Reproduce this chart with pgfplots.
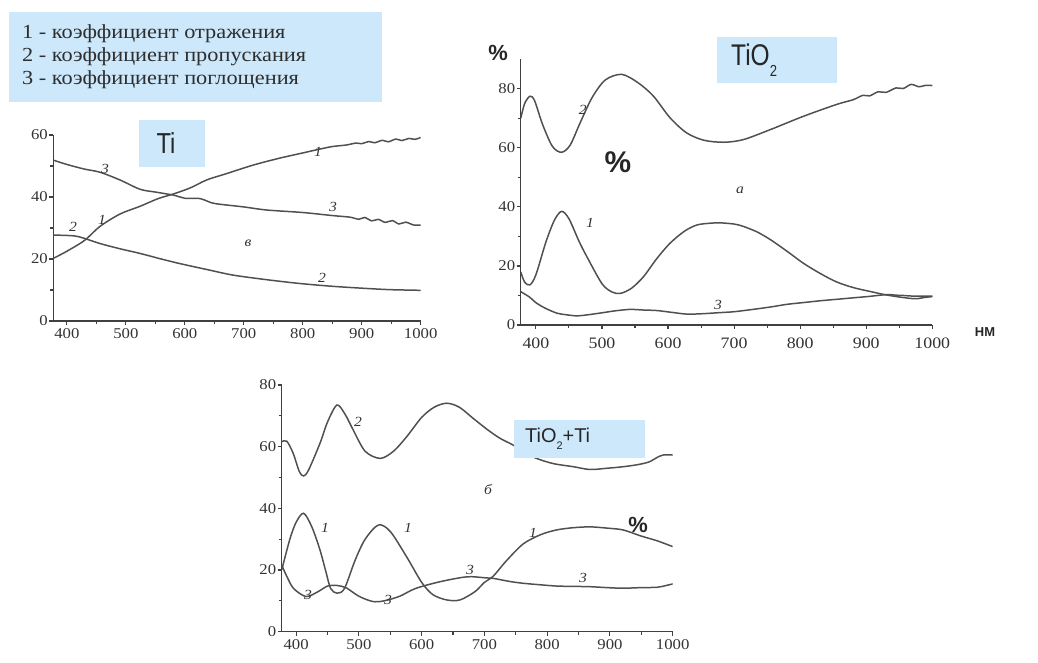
\documentclass[border=0pt]{standalone}
\usepackage{fontspec}
\setmainfont{Liberation Serif}[FakeStretch=1.12]
\newfontfamily\sansf{Liberation Sans}
\newfontfamily\sansn{Liberation Sans}[FakeStretch=0.82]
\usepackage{pgfplots}
\pgfplotsset{compat=1.18}
\definecolor{boxblue}{RGB}{204,232,250}
\definecolor{curvec}{RGB}{80,80,80}
\pgfplotsset{cv/.style={curvec, line width=1.5pt, smooth, mark=none},
  myax/.style={scale only axis, axis lines=left,
  axis line style={-, draw=black!75, line width=1.5pt},
  xmin=377, xmax=1000, ymin=0,
  xtick={400,500,...,1000}, minor xtick={450,550,...,950},
  tick align=outside, major tick length=4bp, minor tick length=3bp,
  every tick/.style={black!75, line width=1.1pt},
  tick label style={font=\fontsize{15}{15}\selectfont, text=black!80},
  yticklabel style={xshift=2bp},
  /pgf/number format/assume math mode=true,
  /pgf/number format/set thousands separator={}}}
\newcommand{\cl}[3]{\node[font=\fontsize{14}{14}\selectfont\itshape, text=black!80] at (#1bp,-#2bp) {#3};}
\begin{document}
\begin{tikzpicture}
\path[use as bounding box] (0,0) rectangle (1038bp,-663bp);
% ---------------- Ti ----------------
\begin{axis}[myax, at={(53.3bp,-321bp)}, anchor=south west, width=367.4bp, height=186bp,
  ymax=60, ytick={0,20,40,60}, minor ytick={10,30,50}]
\addplot[cv] coordinates {(377,20.2) (400,22.5) (430,26) (456,30.5) (490,34.5) (524,37) (555,39.5) (581,41) (610,43) (637,45.5) (670,47.5) (716,50.3) (760,52.5) (795,54) (830,55.5) (851,56.3) (875,56.8) (890,57.4) (900,57.2) (912,57.9) (922,57.5) (935,58.3) (945,57.8) (958,58.7) (968,58.2) (980,58.9) (990,58.6) (1000,59.2)};
\addplot[cv] coordinates {(377,51.9) (400,50.5) (430,49) (456,48) (490,45.5) (524,42.5) (550,41.6) (581,40.6) (600,39.6) (626,39.5) (640,38.5) (654,37.8) (700,36.8) (739,35.8) (800,35) (851,34) (880,33.5) (895,32.8) (905,33.4) (917,32.3) (928,32.8) (940,31.8) (952,32.4) (963,31.3) (975,31.9) (987,31) (1000,30.9)};
\addplot[cv] coordinates {(377,27.7) (400,27.6) (420,27.2) (456,25) (490,23.3) (524,21.8) (560,20) (592,18.5) (640,16.5) (682,14.8) (740,13.3) (795,12.1) (850,11.2) (908,10.5) (950,10.1) (1000,9.9)};
\end{axis}
% ---------------- TiO2 ----------------
\begin{axis}[myax, at={(520.7bp,-325bp)}, anchor=south west, width=411.6bp, height=265.7bp,
  ymax=90, ytick={0,20,40,60,80}, minor ytick={10,30,50,70},
  xticklabel style={yshift=-5bp, font=\fontsize{16}{16}\selectfont}]
\addplot[cv] coordinates {(377,70) (383,75) (391,77.5) (398,76) (410,68) (425,60.5) (439,58.5) (452,61) (467,68.5) (485,77) (505,83) (530,84.9) (555,82) (578,77.5) (603,70.2) (628,65.1) (654,62.6) (684,61.9) (714,62.8) (755,66.2) (805,70.7) (855,74.7) (880,76.3) (895,77.8) (905,77.6) (918,79) (930,78.8) (945,80.3) (956,80.1) (968,81.5) (980,80.7) (990,81.2) (1000,81.1)};
\addplot[cv] coordinates {(377,18) (383,14.5) (391,13.6) (400,17) (415,28) (428,35.5) (439,38.5) (450,36) (465,28.5) (477,23.2) (500,14) (515,11.2) (528,10.7) (545,12.5) (563,16.4) (583,22.5) (603,27.7) (625,31.8) (644,33.9) (665,34.5) (679,34.6) (700,34.2) (714,33.4) (735,31.5) (755,28.9) (780,25) (805,20.9) (830,17.5) (855,14.6) (880,12.7) (905,11.4) (930,10.2) (956,9.3) (975,8.9) (990,9.4) (1000,9.6)};
\addplot[cv] coordinates {(377,11.3) (390,9.5) (401,7.4) (415,5.6) (432,4) (445,3.5) (462,3.1) (480,3.5) (502,4.2) (520,4.8) (543,5.3) (560,5.1) (583,4.9) (605,4.3) (628,3.7) (650,3.8) (679,4.2) (700,4.5) (729,5.3) (755,6.1) (780,7) (805,7.6) (830,8.2) (855,8.7) (880,9.2) (905,9.7) (931,10.3) (945,10.1) (956,10) (970,9.8) (985,9.8) (1000,9.8)};
\end{axis}
% ---------------- TiO2+Ti ----------------
\begin{axis}[myax, at={(281.7bp,-631.7bp)}, anchor=south west, width=391bp, height=246.7bp,
  ymax=80, ytick={0,20,40,60,80}, minor ytick={10,30,50,70}]
\addplot[cv] coordinates {(377,61.6) (385,61.8) (395,58) (405,52) (412,50.5) (420,52.5) (438,61.1) (450,68) (465,73.5) (478,70.5) (491,65.4) (510,58.5) (534,56.2) (555,58.5) (576,63.2) (600,69.5) (620,72.8) (640,74.1) (660,72.8) (682,69.2) (705,65.5) (725,62.7) (746,60.5) (765,58) (783,56.2) (810,54.5) (842,53.5) (868,52.6) (895,53) (921,53.5) (945,54.2) (963,55.1) (975,56.5) (985,57.3) (1000,57.3)};
\addplot[cv] coordinates {(377,20) (390,30) (400,35.5) (412,38.4) (425,34) (438,26.5) (448,19) (455,14) (465,12.5) (477,14) (494,23.2) (510,30) (531,34.6) (550,32.5) (576,24.3) (600,16) (618,12) (640,10.3) (661,10.3) (685,13) (700,16) (714,18) (735,23) (762,28.5) (790,31.5) (815,33) (840,33.7) (868,34) (895,33.6) (921,33) (950,31) (975,29.5) (1000,27.6)};
\addplot[cv] coordinates {(377,21.6) (385,18) (396,14) (416,11.4) (435,13) (450,14.8) (465,15) (480,14.2) (500,11.5) (522,9.8) (540,10) (565,11.5) (590,14) (629,16.2) (672,17.8) (700,17.5) (714,17.3) (740,16.3) (762,15.7) (790,15.2) (815,14.8) (840,14.7) (868,14.6) (895,14.3) (921,14.1) (950,14.3) (975,14.4) (990,15) (1000,15.5)};
\end{axis}
% ---------------- annotations ----------------
\fill[boxblue] (9bp,-12bp) rectangle (382bp,-102bp);
\foreach \yy/\tt in {33.3/{1 - коэффициент отражения}, 56.7/{2 - коэффициент пропускания}, 80/{3 - коэффициент поглощения}}
  \node[anchor=west, inner sep=0pt, font=\fontsize{20}{20}\selectfont, text=black!82] at (22bp,-\yy bp) {\tt};
\fill[boxblue] (139bp,-120bp) rectangle (205bp,-167bp);
\node[font=\sansn\fontsize{29}{29}\selectfont, text=black!85] at (166bp,-143.5bp) {Ti};
\fill[boxblue] (717bp,-37bp) rectangle (837bp,-83bp);
\node[anchor=west, inner sep=0pt, font=\sansn\fontsize{30}{30}\selectfont, text=black!85] at (731bp,-60bp) {TiO\raisebox{-0.35em}{\fontsize{16}{16}\selectfont 2}};
\fill[boxblue] (514bp,-420bp) rectangle (645bp,-458bp);
\node[anchor=west, inner sep=0pt, font=\sansf\fontsize{20}{20}\selectfont, text=black!85] at (525bp,-439bp) {TiO\raisebox{-0.35em}{\fontsize{11}{11}\selectfont 2}+Ti};
\node[font=\sansf\bfseries\fontsize{22}{22}\selectfont, text=black!85] at (498bp,-53bp) {\%};
\node[font=\sansf\bfseries\fontsize{30}{30}\selectfont, text=black!85] at (618bp,-162bp) {\%};
\node[font=\sansf\bfseries\fontsize{22}{22}\selectfont, text=black!85] at (638bp,-525bp) {\%};
\node[font=\sansf\bfseries\fontsize{13}{13}\selectfont, text=black!85] at (985bp,-332bp) {НМ};
% curve labels Ti
\cl{105}{169}{3} \cl{102}{220}{1} \cl{73}{227}{2} \cl{318}{152}{1} \cl{333}{207}{3} \cl{322}{278}{2} \cl{248}{243}{в}
% curve labels TiO2
\cl{582.7}{110}{2} \cl{590}{223}{1} \cl{718}{305}{3} \cl{740}{190}{а}
% curve labels TiO2+Ti
\cl{358}{422}{2} \cl{325}{528}{1} \cl{408}{528}{1} \cl{533}{533}{1} \cl{308}{595}{3} \cl{388}{600}{3} \cl{470}{570}{3} \cl{583}{578}{3} \cl{488}{490}{б}
\end{tikzpicture}
\end{document}
